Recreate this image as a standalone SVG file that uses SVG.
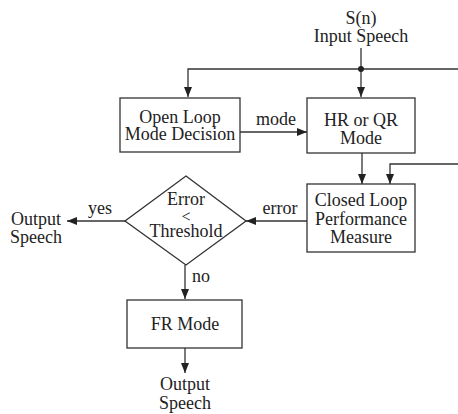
<svg xmlns="http://www.w3.org/2000/svg" width="458" height="414" viewBox="0 0 458 414">
<style>
.t{font-family:"Liberation Serif","Times New Roman",serif;font-size:18px;fill:#222;text-anchor:middle}
.s{font-size:16px}
.b{fill:#fff;stroke:#333;stroke-width:1.3}
.c{fill:none;stroke:#333;stroke-width:1.3}
</style>
<defs>
<marker id="a" viewBox="0 0 10 8" refX="10" refY="4" markerWidth="10" markerHeight="8" markerUnits="userSpaceOnUse" orient="auto">
<path d="M0,0 L10,4 L0,8 Z" fill="#222"/>
</marker>
</defs>
<rect width="458" height="414" fill="#fff"/>
<g id="connectors">
<line class="c" x1="361" y1="48" x2="361" y2="97" marker-end="url(#a)"/>
<polyline class="c" points="458,69 188,69 188,97" marker-end="url(#a)"/>
<circle cx="361" cy="69" r="3" fill="#222"/>
<line class="c" x1="240" y1="132" x2="307" y2="132" marker-end="url(#a)"/>
<line class="c" x1="362" y1="153" x2="362" y2="184" marker-end="url(#a)"/>
<polyline class="c" points="458,164 390,164 390,184" marker-end="url(#a)"/>
<line class="c" x1="307" y1="221" x2="246" y2="221" marker-end="url(#a)"/>
<line class="c" x1="125" y1="221" x2="67" y2="221" marker-end="url(#a)"/>
<line class="c" x1="185" y1="265" x2="185" y2="299" marker-end="url(#a)"/>
<line class="c" x1="185" y1="348" x2="185" y2="373" marker-end="url(#a)"/>
<text class="t" x="276" y="125">mode</text>
<text class="t" x="280" y="214">error</text>
<text class="t" x="100" y="214">yes</text>
<text class="t" x="201" y="282">no</text>
</g>
<g id="input">
<text class="t" x="361" y="24">S(n)</text>
<text class="t" x="361" y="42">Input Speech</text>
</g>
<g id="open-loop">
<rect class="b" x="120" y="98" width="120" height="54"/>
<text class="t" x="180" y="123">Open Loop</text>
<text class="t" x="180" y="140">Mode Decision</text>
</g>
<g id="hr-qr">
<rect class="b" x="307" y="98" width="108" height="55"/>
<text class="t" x="361" y="126">HR or QR</text>
<text class="t" x="361" y="144">Mode</text>
</g>
<g id="closed-loop">
<rect class="b" x="307" y="184" width="108" height="68"/>
<text class="t" x="361" y="206">Closed Loop</text>
<text class="t" x="361" y="225">Performance</text>
<text class="t" x="361" y="243">Measure</text>
</g>
<g id="decision">
<polygon class="b" points="186,176 246,221 186,265 125,221"/>
<text class="t" x="186" y="205">Error</text>
<text class="t s" x="186" y="222">&lt;</text>
<text class="t" x="186" y="237">Threshold</text>
</g>
<g id="output-yes">
<text class="t" x="36" y="225">Output</text>
<text class="t" x="36" y="243">Speech</text>
</g>
<g id="fr-mode">
<rect class="b" x="127" y="300" width="115" height="48"/>
<text class="t" x="185" y="330">FR Mode</text>
</g>
<g id="output-no">
<text class="t" x="185" y="390">Output</text>
<text class="t" x="185" y="409">Speech</text>
</g>
</svg>
